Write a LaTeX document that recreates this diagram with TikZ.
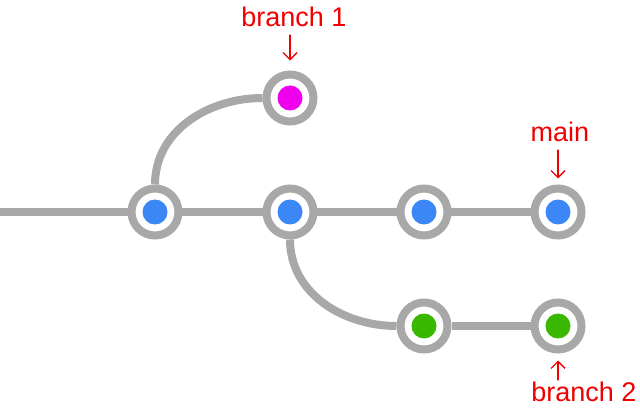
\documentclass[tikz,border=0pt]{standalone}
\usepackage{fontspec}
\setmainfont{Liberation Sans}
\usetikzlibrary{arrows.meta,backgrounds}
\definecolor{ringgray}{RGB}{168,168,168}
\definecolor{cblue}{RGB}{58,135,245}
\definecolor{cmag}{RGB}{238,0,238}
\definecolor{cgreen}{RGB}{58,184,0}
\definecolor{hand}{RGB}{240,0,0}
\tikzset{
  commit/.style={circle, draw=ringgray, line width=8pt, fill=white,
    minimum size=47pt, inner sep=0pt,
    path picture={\fill[#1] (path picture bounding box.center) circle (12.5pt);}},
  link/.style={draw=ringgray, line width=8pt},
  lbl/.style={text=hand, font=\fontsize{27}{29}\selectfont, inner sep=2pt},
  handarrow/.style={draw=hand, line width=1.4pt, line cap=round,
    -{Straight Barb[length=7pt,width=14pt,line width=1.4pt]}}
}
\begin{document}
\begin{tikzpicture}[x=1pt,y=-1pt]
\useasboundingbox (0,0) rectangle (640,414);
\coordinate (start) at (0,212);
\node[commit=cblue] (c1) at (155,212) {};
\node[commit=cblue] (c2) at (290,212) {};
\node[commit=cblue] (c3) at (424,212) {};
\node[commit=cblue] (c4) at (558,212) {};
\node[commit=cmag] (b1) at (290,98) {};
\node[commit=cgreen] (g1) at (424,326) {};
\node[commit=cgreen] (g2) at (558,326) {};
\begin{pgfonlayer}{background}
\path[link] (start) -- (c1.center) -- (c2.center) -- (c3.center) -- (c4.center);
\path[link] (c1) to[out=90,in=180] (b1);
\path[link] (c2) to[out=-90,in=180] (g1);
\path[link] (g1) -- (g2);
\end{pgfonlayer}
\node[lbl] (lb1) at (294,17) {branch 1};
\node[lbl] (lmain) at (560,132) {main};
\node[lbl] (lb2) at (584,392) {branch 2};
\draw[handarrow, shorten <=6pt, shorten >=10pt] (b1 |- lb1.south) -- (b1.north);
\draw[handarrow, shorten <=6pt, shorten >=6pt] (c4 |- lmain.south) -- (c4.north);
\draw[handarrow, shorten <=0pt, shorten >=7pt] (g2 |- lb2.north) -- (g2.south);
\end{tikzpicture}
\end{document}
